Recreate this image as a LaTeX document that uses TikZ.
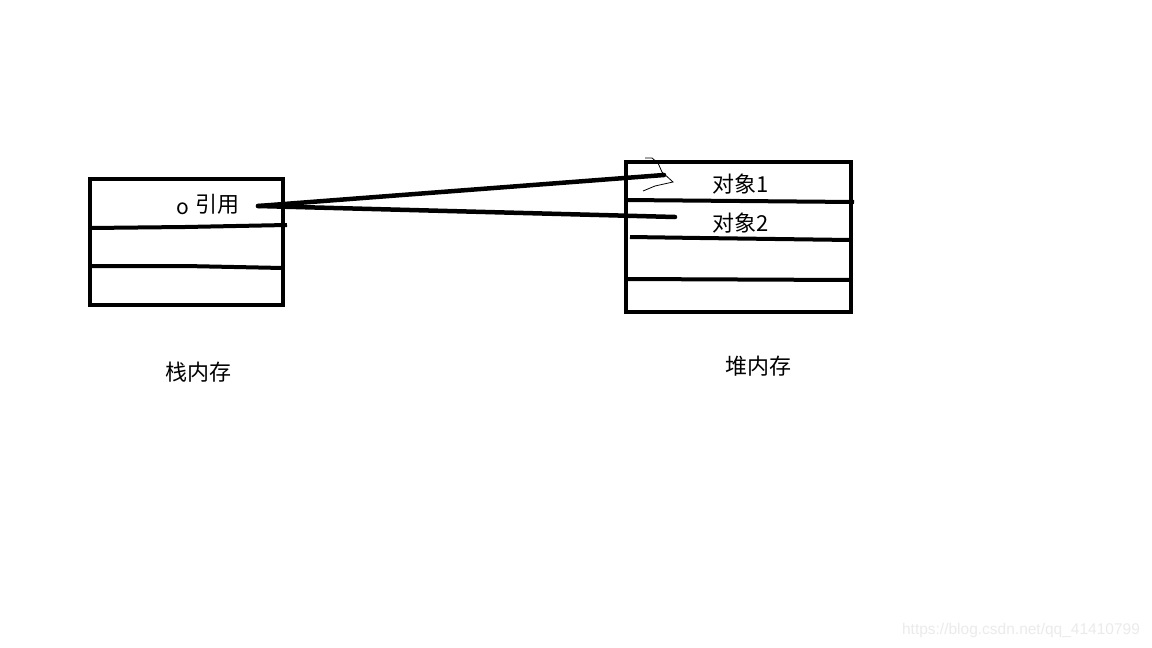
\documentclass[tikz,border=0pt]{standalone}
\usepackage{fontspec}
\setmainfont{Noto Sans CJK SC}
\newfontfamily\wmfont{Liberation Sans}
\tikzset{
  box/.style={line width=4pt},
  sep/.style={line width=4pt},
  lbl/.style={inner sep=0pt, font=\fontsize{22pt}{24pt}\selectfont},
  refline/.style={line width=4.5pt, line cap=round},
  thin/.style={line width=0.8pt},
}
\begin{document}
\begin{tikzpicture}[x=1pt,y=-1pt]
\useasboundingbox[fill=white] (0,0) rectangle (1152,648);
% stack box
\draw[box] (90,179) rectangle (283,305);
\draw[sep] (90,228) -- (185,227) -- (287,225);
\draw[sep] (90,266) -- (185,266) -- (283,268);
% heap box
\draw[box] (626,162) rectangle (851,312);
\draw[sep] (626,200) -- (740,201) -- (854,202);
\draw[sep] (630,237) -- (700,238) -- (851,240);
\draw[sep] (626,279) -- (851,280);
% labels
\node[lbl, font=\fontsize{21pt}{24pt}\selectfont] (o) at (183,209) {o};
\node[lbl] (ref) at (217,204) {引用};
\node[lbl] (obj1) at (741,184) {对象1};
\node[lbl] (obj2) at (741,223) {对象2};
\node[lbl] (stack) at (198,372) {栈内存};
\node[lbl] (heap) at (758,366) {堆内存};
\node[inner sep=0pt, font=\wmfont\fontsize{15.5pt}{17pt}\selectfont, text=black!8] (wm) at (1021,630) {https://blog.csdn.net/qq\_41410799};
% connectors
\coordinate (src) at (258,206);
\coordinate (t1) at (664,175);
\coordinate (t2) at (675,217);
\draw[refline] (src) -- (t1);
\draw[refline] (src) -- (t2);
\draw[thin] (645,158) -- (652,158) -- (658,163) -- (662,172) -- (673,182) -- (655,186) -- (643,191);
\end{tikzpicture}
\end{document}
